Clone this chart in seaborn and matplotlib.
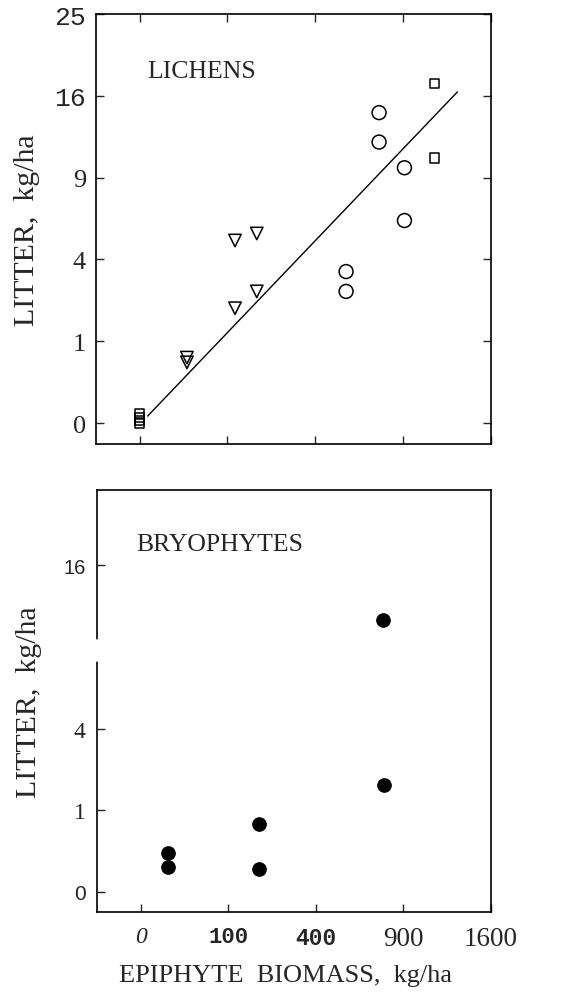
import numpy as np
import matplotlib
matplotlib.use("Agg")
import matplotlib.pyplot as plt
import seaborn as sns

# LICHENS panel (kg/ha)
tri_x = [29, 29, 118, 178, 118, 178]
tri_y = [0.64, 0.55, 4.98, 5.37, 1.97, 2.59]
circ_x = [553, 553, 744, 744, 910, 910]
circ_y = [3.43, 2.59, 14.4, 11.8, 9.74, 6.13]
sq_x = [0, 0, 0, 0, 1128, 1128]
sq_y = [0.012, 0.005, 0.001, 0, 17.2, 10.5]

# fitted line, on square-root axes: sqrt(y) = a*sqrt(x) + b
fit_a = 0.1123
fit_b = -0.017
fit_range = [0.83, 1310]

# BRYOPHYTES panel (kg/ha)
bry_x = [9.5, 9.5, 184, 184, 768, 770]
bry_y = [0.23, 0.094, 0.68, 0.08, 11.1, 1.72]

x_ticks = [0, 100, 400, 900, 1600]
top_yticks = [0, 1, 4, 9, 16, 25]
bot_yticks = [0, 1, 4, 16]


def fwd(v):
    v = np.asarray(v, dtype=float)
    return np.sign(v) * np.sqrt(np.abs(v))


def inv(v):
    v = np.asarray(v, dtype=float)
    return np.sign(v) * v ** 2


SERIF = 'Liberation Serif'
MONO = 'Liberation Mono'
SANS = 'Liberation Sans'

sns.set_style("ticks")
plt.rcParams['font.family'] = [SERIF, 'DejaVu Sans']

fig = plt.figure(figsize=(5.7, 10.03), dpi=100)
ax1 = fig.add_axes([0.168, 0.556, 0.693, 0.429])
ax2 = fig.add_axes([0.170, 0.090, 0.691, 0.420])

for ax in (ax1, ax2):
    ax.set_xscale('function', functions=(fwd, inv))
    ax.set_yscale('function', functions=(fwd, inv))
    ax.set_xlim(-25, 1600)
    for s in ax.spines.values():
        s.set_linewidth(1.2)
        s.set_color('black')

### top panel
sns.scatterplot(x=tri_x, y=tri_y, marker='v', s=80, fc='none', ec='black', linewidth=1.1, ax=ax1)
sns.scatterplot(x=circ_x, y=circ_y, marker='o', s=100, fc='none', ec='black', linewidth=1.1, ax=ax1)
sns.scatterplot(x=sq_x, y=sq_y, marker='s', s=45, fc='none', ec='black', linewidth=1.1, ax=ax1)

rx = np.linspace(np.sqrt(fit_range[0]), np.sqrt(fit_range[1]), 50)
sns.lineplot(x=rx ** 2, y=(fit_a * rx + fit_b) ** 2, color='black', lw=1, ax=ax1)

ax1.set_ylim(-0.0676, 25)
ax1.set_xticks(x_ticks)
ax1.set_xticklabels([])
ax1.set_yticks(top_yticks)
ax1.set_yticklabels([str(t) for t in top_yticks])
ax1.tick_params(direction='in', length=6, width=1, top=True, right=True, pad=7)
for lbl, t in zip(ax1.get_yticklabels(), top_yticks):
    if t >= 16:
        lbl.set_fontfamily(MONO)
        lbl.set_fontsize(19)
    else:
        lbl.set_fontfamily(SERIF)
        lbl.set_fontsize(19)
ax1.set_ylabel('LITTER,  kg/ha', fontsize=21.5, family=SERIF)
ax1.yaxis.set_label_coords(-0.14, 0.5)
ax1.text(0.13, 0.867, 'LICHENS', transform=ax1.transAxes, fontsize=18.5,
         family=SERIF, ha='left', va='center')

### bottom panel
sns.scatterplot(x=bry_x, y=bry_y, marker='o', s=95, color='black', ec='black', ax=ax2)

ax2.set_ylim(-0.06, 24.2)
ax2.set_xticks(x_ticks)
ax2.set_xticklabels([str(t) for t in x_ticks])
ax2.set_yticks(bot_yticks)
ax2.set_yticklabels([str(t) for t in bot_yticks])
ax2.tick_params(direction='in', length=6, width=1, pad=8)
ax2.tick_params(axis='x', pad=10)

xfonts = [(SERIF, 'normal', 'italic', 17), (MONO, 'bold', 'normal', 16),
          (MONO, 'bold', 'normal', 16.5), (SERIF, 'normal', 'normal', 19.5),
          (SERIF, 'normal', 'normal', 19.5)]
for lbl, (fam, wt, st, fs) in zip(ax2.get_xticklabels(), xfonts):
    lbl.set_fontfamily(fam)
    lbl.set_fontweight(wt)
    lbl.set_fontstyle(st)
    lbl.set_fontsize(fs)
yfonts = [(SANS, 15), (SERIF, 17), (SERIF, 17), (SANS, 14.5)]
for lbl, (fam, fs) in zip(ax2.get_yticklabels(), yfonts):
    lbl.set_fontfamily(fam)
    lbl.set_fontsize(fs)

ax2.set_ylabel('LITTER,  kg/ha', fontsize=21.5, family=SERIF)
ax2.yaxis.set_label_coords(-0.14, 0.5)
ax2.set_xlabel('EPIPHYTE  BIOMASS,  kg/ha', fontsize=19, family=SERIF)
ax2.xaxis.set_label_coords(0.48, -0.125)
ax2.text(0.10, 0.874, 'BRYOPHYTES', transform=ax2.transAxes, fontsize=18.5,
         family=SERIF, ha='left', va='center')

# break in the left axis line
ax2.plot([0, 0], [0.601, 0.641], transform=ax2.transAxes, color='white',
         lw=4, clip_on=False, zorder=5)

plt.savefig("out.png", dpi=100)
